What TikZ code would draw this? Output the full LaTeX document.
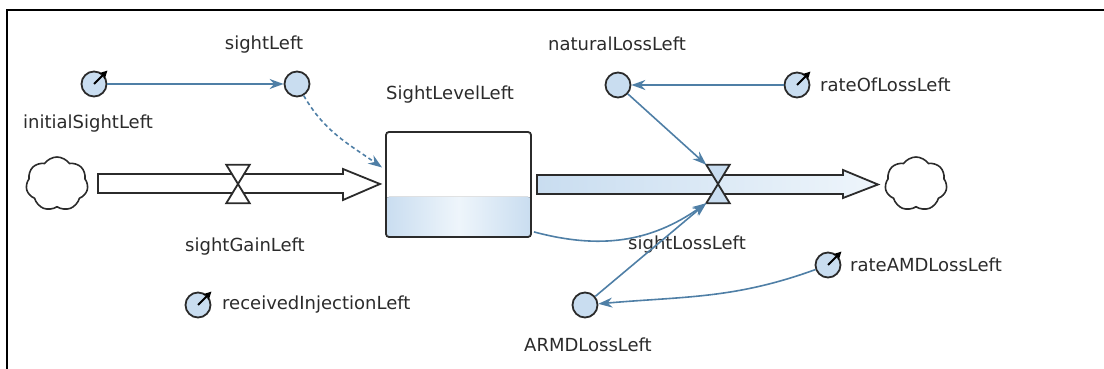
\documentclass[tikz,border=0pt]{standalone}
\usepackage{fontspec}
\setmainfont{DejaVu Sans}
\usepackage{xcolor}
\usetikzlibrary{shapes.symbols,arrows.meta}
\definecolor{vblack}{HTML}{2b2b2b}
\definecolor{vblue}{HTML}{4f7fa6}
\definecolor{vpale}{HTML}{c9ddf0}
\definecolor{vwhite}{HTML}{eef5fb}

\tikzset{
	aux/.style = {circle, draw = vblack, fill = vpale, line width = 1.8pt, minimum size = 25pt, inner sep = 0pt},
	lbl/.style = {font = \fontsize{18}{20}\selectfont, text = vblack, inner sep = 0pt},
	link/.style = {draw = vblue, line width = 1.6pt, -{Stealth[length = 14pt, width = 10pt]}},
	cloudnode/.style = {cloud, cloud puffs = 7, cloud puff arc = 110, draw = vblack, line width = 1.6pt, minimum width = 62pt, minimum height = 54pt, aspect = 1.15},
	pipe/.style = {draw = vblack, line width = 1.8pt, line join = miter},
	valvebox/.style = {minimum width = 23pt, minimum height = 38pt, inner sep = 0pt},
	stockbox/.style = {draw = vblack, line width = 1.8pt, rounded corners = 3pt, minimum width = 145pt, minimum height = 105pt,
		path picture = {\fill[left color = vpale, right color = vpale, middle color = vwhite] (path picture bounding box.south west) rectangle ([yshift = 40pt]path picture bounding box.south east);}}
}

\newcommand{\dial}[1]{\draw[black, line width = 2pt, -{Stealth[length = 8pt, width = 8pt]}] (#1.center) -- ([shift = {(4pt,4pt)}]#1.45);}

\begin{document}
\begin{tikzpicture}[x = 1pt, y = 1pt]
		\useasboundingbox (0,0) rectangle (1104,369);
		\draw[draw = black, line width = 2.5pt] (7,0) -- (7,359) -- (1104,359);

		\node[cloudnode] (srcCloud) at (57,185) {};
		\node[cloudnode] (sinkCloud) at (916,185) {};

		\draw[pipe, fill = white] (98,195) -- (343,195) -- (343,200) -- (380,185) -- (343,169) -- (343,176) -- (98,176) -- cycle;
		\draw[pipe, left color = vpale, right color = vwhite] (537,194) -- (843,194) -- (843,199) -- (878,184.5) -- (843,171) -- (843,175) -- (537,175) -- cycle;

		\node[valvebox] (gainV) at (238,185) {};
		\draw[pipe, fill = white] (gainV.north west) -- (gainV.north east) -- (gainV.south west) -- (gainV.south east) -- cycle;
		\node[valvebox] (lossV) at (718,185) {};
		\draw[pipe, fill = vpale] (lossV.north west) -- (lossV.north east) -- (lossV.south west) -- (lossV.south east) -- cycle;

		\node[stockbox] (stock) at (458.5,184.5) {};

		\node[aux] (initC) at (94,285) {};
		\node[aux] (sightA) at (297,285) {};
		\node[aux] (natA) at (618,284) {};
		\node[aux] (rolC) at (797,284) {};
		\node[aux] (armdA) at (585,64) {};
		\node[aux] (rarC) at (828,104) {};
		\node[aux] (injC) at (198,64) {};
		\dial{initC}
		\dial{rolC}
		\dial{rarC}
		\dial{injC}

		\node[lbl] (initL) at (88,245) {initialSightLeft};
		\node[lbl] (sightL) at (264,324) {sightLeft};
		\node[lbl] (stockL) at (450,274) {SightLevelLeft};
		\node[lbl] (gainL) at (245,122) {sightGainLeft};
		\node[lbl] (natL) at (617,325) {naturalLossLeft};
		\node[lbl, anchor = west] (rolL) at (820,284) {rateOfLossLeft};
		\node[lbl] (lossL) at (687,124) {sightLossLeft};
		\node[lbl, anchor = west] (rarL) at (850,104) {rateAMDLossLeft};
		\node[lbl] (armdL) at (588,24) {ARMDLossLeft};
		\node[lbl, anchor = west] (injL) at (222,64) {receivedInjectionLeft};

		\draw[link] (initC) -- (sightA);
		\draw[link, dash pattern = on 4pt off 3pt] (sightA) to[out = -60, in = 145] ([xshift = -3pt, yshift = 17pt]stock.west);
		\draw[link] (rolC) -- (natA);
		\draw[link] (natA) -- (lossV.north west);
		\draw[link] ([xshift = 2pt, yshift = 6pt]stock.south east) to[out = -15, in = 215] (lossV.south west);
		\draw[link] (armdA) -- (lossV.south west);
		\draw[link] (rarC) to[out = 200, in = 5] (armdA);
	\end{tikzpicture}
\end{document}
